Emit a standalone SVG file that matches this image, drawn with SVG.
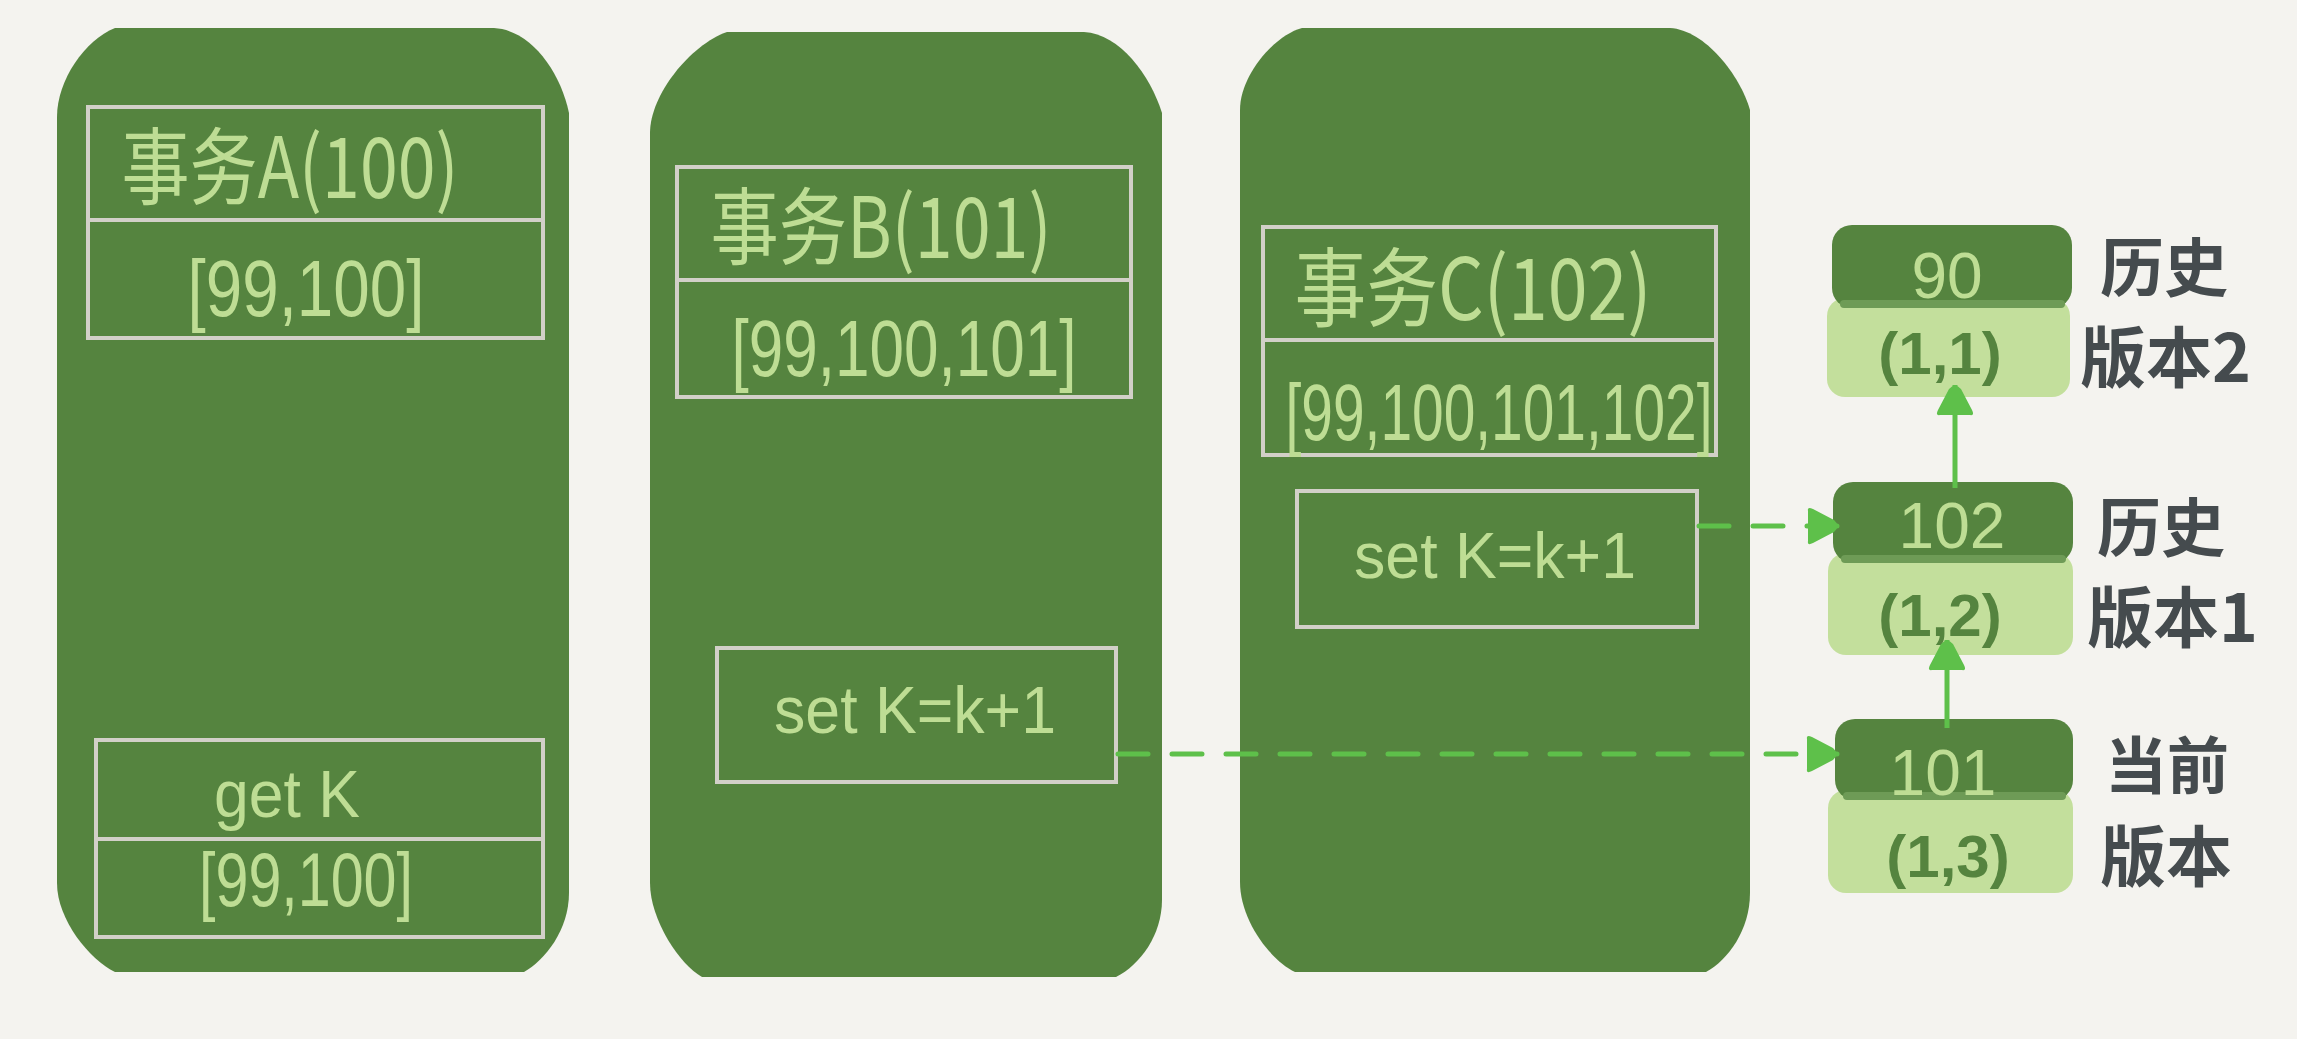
<svg xmlns="http://www.w3.org/2000/svg" width="2297" height="1039" viewBox="0 0 2297 1039">
<style>
.panel{fill:#55843F}
.box{fill:none;stroke:#D2D0C8;stroke-width:4}
.pt{font-family:"Liberation Sans","Noto Sans CJK SC",sans-serif;fill:#BEDD94;text-anchor:middle}
.cjk{font-family:"Noto Sans CJK SC",sans-serif;fill:#BEDD94;text-anchor:middle}
.dark{fill:#55843F}
.light{fill:#C3DF9C}
.band{fill:#6E9B56}
.nt1{font-family:"Liberation Sans",sans-serif;fill:#BEDD94;text-anchor:middle;font-size:64px}
.nt2{font-family:"Liberation Sans",sans-serif;fill:#55843F;text-anchor:middle;font-size:60px;font-weight:bold}
.lbl{font-family:"Noto Sans CJK SC",sans-serif;fill:#454B4E;font-weight:bold}
.dash{fill:none;stroke:#5EC04A;stroke-width:5;stroke-dasharray:30 24;stroke-linecap:round}
.solid{fill:none;stroke:#5EC04A;stroke-width:5}
</style>
<defs>
<marker id="ah" markerUnits="userSpaceOnUse" viewBox="-4 -22 40 44" markerWidth="40" markerHeight="44" refX="31" refY="0" orient="auto">
<path d="M1,-15 Q0,-20 6,-17 L27,-6 Q34,0 27,6 L6,17 Q0,20 1,15 Z" fill="#5EC04A"/>
</marker>
</defs>
<rect width="2297" height="1039" fill="#F4F3EF"/>

<g id="txA">
<path class="panel" d="M115,28 L494,28 C530,30 560,70 569,113 L569,893 C569,930 545,960 524,972 L115,972 C90,960 57,920 57,883 L57,117 C57,80 85,40 115,28 Z"/>
<rect class="box" x="88" y="107" width="455" height="231"/>
<line class="box" x1="88" y1="220" x2="543" y2="220"/>
<text class="cjk" x="290" y="198" font-size="84" textLength="337" lengthAdjust="spacingAndGlyphs">事务A(100)</text>
<text class="pt" x="306" y="316" font-size="80" textLength="237" lengthAdjust="spacingAndGlyphs">[99,100]</text>
<rect class="box" x="96" y="740" width="447" height="197"/>
<line class="box" x1="96" y1="839" x2="543" y2="839"/>
<text class="pt" x="287" y="817" font-size="66" textLength="146" lengthAdjust="spacingAndGlyphs">get K</text>
<text class="pt" x="306" y="906" font-size="76" textLength="214" lengthAdjust="spacingAndGlyphs">[99,100]</text>
</g>

<g id="txB">
<path class="panel" d="M727,32 L1084,32 C1120,34 1150,75 1162,113 L1162,900 C1162,935 1140,965 1116,977 L702,977 C680,965 650,920 650,883 L650,133 C650,95 690,45 727,32 Z"/>
<rect class="box" x="677" y="167" width="454" height="230"/>
<line class="box" x1="677" y1="280" x2="1131" y2="280"/>
<text class="cjk" x="881" y="258" font-size="84" textLength="341" lengthAdjust="spacingAndGlyphs">事务B(101)</text>
<text class="pt" x="904" y="376" font-size="80" textLength="345" lengthAdjust="spacingAndGlyphs">[99,100,101]</text>
<rect class="box" x="717" y="648" width="399" height="134"/>
<text class="pt" x="915" y="733" font-size="66" textLength="282" lengthAdjust="spacingAndGlyphs">set K=k+1</text>
</g>

<g id="txC">
<path class="panel" d="M1302,28 L1670,28 C1705,30 1740,75 1750,110 L1750,893 C1750,930 1728,960 1706,972 L1295,972 C1270,960 1240,920 1240,882 L1240,110 C1240,75 1275,35 1302,28 Z"/>
<rect class="box" x="1263" y="227" width="453" height="228"/>
<line class="box" x1="1263" y1="340" x2="1716" y2="340"/>
<text class="cjk" x="1473" y="320" font-size="86" textLength="357" lengthAdjust="spacingAndGlyphs">事务C(102)</text>
<text class="pt" x="1499" y="440" font-size="80" textLength="427" lengthAdjust="spacingAndGlyphs">[99,100,101,102]</text>
<rect class="box" x="1297" y="491" width="400" height="136"/>
<text class="pt" x="1495" y="578" font-size="64" textLength="282" lengthAdjust="spacingAndGlyphs">set K=k+1</text>
</g>

<g id="v90">
<rect class="light" x="1827" y="298" width="243" height="99" rx="18"/>
<rect class="dark" x="1832" y="225" width="240" height="83" rx="20"/>
<rect class="band" x="1840" y="300" width="225" height="8" rx="4"/>
<text class="nt1" x="1947" y="298">90</text>
<text class="nt2" x="1940" y="374">(1,1)</text>
<text class="lbl" x="2100" y="291" font-size="64">历史</text>
<text class="lbl" x="2080" y="382" font-size="66">版本2</text>
</g>

<g id="v102">
<rect class="light" x="1828" y="553" width="245" height="102" rx="18"/>
<rect class="dark" x="1833" y="482" width="240" height="81" rx="20"/>
<rect class="band" x="1841" y="555" width="225" height="8" rx="4"/>
<text class="nt1" x="1952" y="548">102</text>
<text class="nt2" x="1940" y="636">(1,2)</text>
<text class="lbl" x="2097" y="551" font-size="64">历史</text>
<text class="lbl" x="2087" y="642" font-size="66">版本1</text>
</g>

<g id="v101">
<rect class="light" x="1828" y="790" width="245" height="103" rx="18"/>
<rect class="dark" x="1835" y="719" width="238" height="81" rx="20"/>
<rect class="band" x="1843" y="792" width="223" height="8" rx="4"/>
<text class="nt1" x="1943" y="795">101</text>
<text class="nt2" x="1948" y="877">(1,3)</text>
<text class="lbl" x="2105" y="789" font-size="62">当前</text>
<text class="lbl" x="2100" y="881" font-size="66">版本</text>
</g>

<g id="connectors">
<path class="dash" d="M1118,754 L1837,754" marker-end="url(#ah)"/>
<path class="dash" d="M1699,526 L1838,526" marker-end="url(#ah)"/>
<path class="solid" d="M1955,488 L1955,385" marker-end="url(#ah)"/>
<path class="solid" d="M1947,728 L1947,640" marker-end="url(#ah)"/>
</g>
</svg>
